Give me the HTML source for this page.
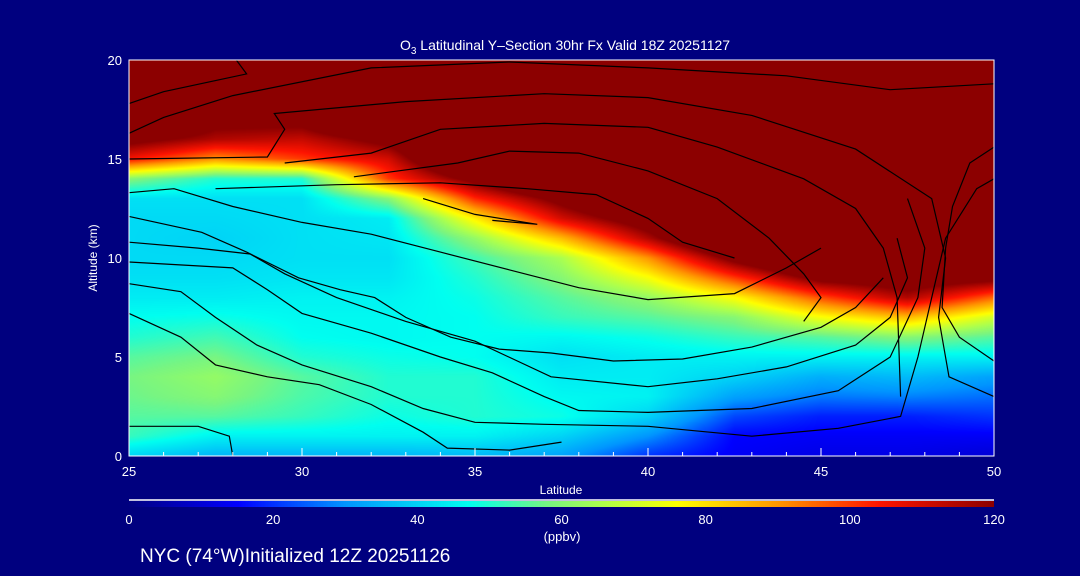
<!DOCTYPE html>
<html><head><meta charset="utf-8">
<style>
html,body{margin:0;padding:0;background:#00007f;}
#wrap{position:relative;width:1080px;height:576px;background:#00007f;overflow:hidden;font-family:"Liberation Sans",sans-serif;color:#fff;}
svg text{font-family:"Liberation Sans",sans-serif;fill:#fff;}
canvas{position:absolute;}
</style></head>
<body>
<div id="wrap">
<canvas id="heat" width="865" height="396" style="left:129px;top:60px"></canvas>
<canvas id="cbar" width="865" height="6" style="left:129px;top:501px"></canvas>
<svg id="ax" width="1080" height="576" style="position:absolute;left:0;top:0"></svg>
</div>
<script>
const lats = [25,27.5,30,32.5,35,37.5,40,42.5,45,47.5,50];
const alts = [0,1,2,3,4,5,6,7,8,9,10,11,12,13,14,15,16,17,18,19,20];
const o3_25  = [40,52,55,57,58,55,50,47,44,42,41,41,41,42,60,105,125,150,150,150,150];
const o3_275 = [35,45,55,60,62,58,53,48,44,42,41,40,41,42,50,90,115,125,150,150,150];
const o3_30  = [35,45,52,54,55,50,47,46,45,43,42,42,42,42,50,100,112,125,150,150,150];
const o3_325 = [35,45,48,50,50,48,46,46,45,43,42,43,44,60,100,110,125,150,150,150,150];
const o3_35  = [36,45,50,50,50,47,47,47,48,50,53,62,78,102,125,150,150,150,150,150,150];
const o3_375 = [32,40,48,46,44,42,46,52,55,60,65,85,110,125,150,150,150,150,150,150,150];
const o3_40  = [20,30,40,45,44,44,48,55,62,75,90,115,130,150,150,150,150,150,150,150,150];
const o3_425 = [14,15,22,32,40,45,52,60,76,100,125,150,150,150,150,150,150,150,150,150,150];
const o3_45  = [12,14,18,27,34,45,55,75,98,125,150,150,150,150,150,150,150,150,150,150,150];
const o3_475 = [12,14,18,28,36,45,60,85,115,130,150,150,150,150,150,150,150,150,150,150,150];
const o3_50  = [10,14,20,26,32,45,55,70,95,125,150,150,150,150,150,150,150,150,150,150,150];
const columns = [o3_25,o3_275,o3_30,o3_325,o3_35,o3_375,o3_40,o3_425,o3_45,o3_475,o3_50];
const xTicks = [25,30,35,40,45,50];
const yTicks = [0,5,10,15,20];
const cbTicks = [0,20,40,60,80,100,120];
// overlay contour lines: [latitude, altitude km]
const contourS1 = [[25,17.8],[26,18.4],[27.6,19.0],[28.4,19.3],[28.1,20]];
const contourS2 = [[25,16.3],[26,17.1],[28,18.2],[32,19.6],[36,19.9],[40,19.6],[44,19.2],[47,18.5],[50,18.8]];
const contourS3 = [[25,15.0],[29,15.1],[29.5,16.5],[29.2,17.3],[33,17.9],[37,18.3],[40,18.1],[43,17.2],[46,15.5],[48.2,13],[48.6,10],[48.4,7],[48.7,4],[50,3]];
const contourS4 = [[29.5,14.8],[32,15.3],[34,16.5],[37,16.8],[40,16.6],[42,15.6],[44.5,14],[46,12.5],[46.8,10.5],[47.2,8],[47.3,3]];
const contourS5 = [[31.5,14.1],[34.5,14.8],[36,15.4],[38,15.3],[40,14.4],[42,13.0],[43.5,11],[44.5,9.2],[45,8],[44.5,6.8]];
const contourS6 = [[27.5,13.5],[31,13.7],[34,13.8],[36.5,13.5],[38.5,13.2],[40,12.0],[41,10.8],[42.5,10.0]];
const contourS7 = [[33.5,13],[35,12.2],[36.8,11.7],[35.5,11.9]];
const contourU1 = [[50,15.6],[49.3,14.8],[48.8,12.6],[48.6,10.5],[48.5,7.5],[49,6],[50,4.8]];
const contourC1 = [[25,12.1],[27.1,11.3],[28.4,10.3],[29.9,9.0],[31.1,8.4],[32.1,8.0],[33,7.0],[34.3,6.0],[35.7,5.4],[37.2,5.2],[39,4.8],[41,4.9],[43,5.5],[45,6.5],[46,7.5],[46.8,9]];
const contourC2 = [[25,10.8],[27,10.5],[28.5,10.2],[29.5,9.2],[31,8.0],[33,6.8],[35,5.8],[37.2,4.0],[40,3.5],[42,3.9],[44,4.5],[46,5.6],[47,7],[47.5,9],[47.2,11]];
const contourC3 = [[25,9.8],[28,9.5],[29,8.4],[30,7.2],[32,6.2],[34,5.0],[35.5,4.2],[37,3.0],[38,2.3],[40,2.2],[43,2.4],[45.5,3.3],[47,5],[47.8,8],[48,10.5],[47.5,13]];
const contourC4 = [[25,8.7],[26.5,8.3],[27.5,7.0],[28.7,5.6],[30,4.6],[32,3.5],[33.5,2.4],[35,1.7],[37,1.6],[40,1.5],[43,1.0],[45.5,1.4],[47.3,2.0],[47.8,5],[48.2,8],[48.6,11],[49.5,13.5],[50,14]];
const contourC5 = [[25,7.2],[26.5,6.0],[27.5,4.6],[29,4.0],[30.5,3.6],[32,2.6],[33.5,1.2],[34.2,0.4],[36,0.3],[37.5,0.7]];
const contourC6 = [[25,1.5],[27,1.5],[27.9,1.0],[28,0]];
const contourC7 = [[25,13.3],[26.3,13.5],[28,12.6],[30,11.8],[32,11.2],[34,10.3],[36,9.4],[38,8.5],[40,7.9],[42.5,8.2],[44,9.5],[45,10.5]];
const contours = [contourS1,contourS2,contourS3,contourS4,contourS5,contourS6,contourS7,contourU1,contourC1,contourC2,contourC3,contourC4,contourC5,contourC6,contourC7];

const PL=129,PR=994,PT=60,PB=456;
const xS = v => PL + (v-25)/25*(PR-PL);
const yS = v => PB - v/20*(PB-PT);
const stops=[[0,0,0,130],[15,0,0,255],[30,0,150,255],[47,0,255,240],[58,120,245,130],[65,170,255,80],[76,255,255,0],[90,255,150,0],[104,255,20,0],[120,140,0,0]];
function cmap(v){
  if(v<=stops[0][0]) return stops[0].slice(1);
  if(v>=120) return stops[stops.length-1].slice(1);
  for(let i=1;i<stops.length;i++){ if(v<=stops[i][0]){const a=stops[i-1],b=stops[i],t=(v-a[0])/(b[0]-a[0]);return [a[1]+t*(b[1]-a[1]),a[2]+t*(b[2]-a[2]),a[3]+t*(b[3]-a[3])];}}
}
function field(lat,alt){
  let fi=(lat-25)/2.5; let i=Math.min(Math.floor(fi),lats.length-2); let tx=fi-i;
  let fj=alt; let j=Math.min(Math.floor(fj),alts.length-2); let ty=fj-j;
  const a=columns[i][j],b=columns[i+1][j],c=columns[i][j+1],d=columns[i+1][j+1];
  return (a*(1-tx)+b*tx)*(1-ty)+(c*(1-tx)+d*tx)*ty;
}
(function(){
  const cv=document.getElementById('heat'),ctx=cv.getContext('2d');
  const W=cv.width,H=cv.height,img=ctx.createImageData(W,H);
  for(let y=0;y<H;y++){const alt=(H-0.5-y)/H*20;
    for(let x=0;x<W;x++){const lat=25+(x+0.5)/W*25;const c=cmap(field(lat,alt));const k=(y*W+x)*4;
      img.data[k]=c[0];img.data[k+1]=c[1];img.data[k+2]=c[2];img.data[k+3]=255;}}
  ctx.putImageData(img,0,0);
  const cb=document.getElementById('cbar'),c2=cb.getContext('2d');
  for(let x=0;x<cb.width;x++){const c=cmap(x/cb.width*120);c2.fillStyle=`rgb(${c[0]|0},${c[1]|0},${c[2]|0})`;c2.fillRect(x,0,1,6);}
})();
const svg=document.getElementById('ax'),NS='http://www.w3.org/2000/svg';
function mk(t,attrs,txt){const e=document.createElementNS(NS,t);for(const k in attrs)e.setAttribute(k,attrs[k]);if(txt!==undefined)e.textContent=txt;svg.appendChild(e);return e;}
let e;
contours.forEach(c=>{
  e=mk('polyline',{points:c.map(p=>xS(p[0]).toFixed(1)+','+yS(p[1]).toFixed(1)).join(' '),fill:'none',stroke:'#000','stroke-width':1.2});
  
  
});
e=mk('rect',{x:PL,y:PT,width:PR-PL,height:PB-PT,fill:'none',stroke:'#fff','stroke-width':1});


for(let v=25;v<=50;v++){const big=v%5===0;
  e=mk('line',{x1:xS(v),x2:xS(v),y1:PB,y2:PB-(big?8:4),stroke:'#fff'});
  
  }
xTicks.forEach(v=>{e=mk('text',{x:xS(v),y:476,'font-size':13,'text-anchor':'middle'},String(v));
  
  });
yTicks.forEach(v=>{e=mk('text',{x:122,y:yS(v)+5,'font-size':13,'text-anchor':'end'},String(v));
  
  });
cbTicks.forEach(v=>{e=mk('text',{x:PL+v/120*(PR-PL),y:524,'font-size':13,'text-anchor':'middle'},String(v));
  
  });
e=mk('line',{x1:PL,x2:PR,y1:500,y2:500,stroke:'#fff','stroke-width':1.5});


e=mk('text',{x:561,y:494,'font-size':12,'text-anchor':'middle'},'Latitude');


e=mk('text',{x:0,y:0,'font-size':12,'text-anchor':'middle',transform:'translate(97,258) rotate(-90)'},'Altitude (km)');


e=mk('text',{x:562,y:541,'font-size':13,'text-anchor':'middle'},'(ppbv)');


e=mk('text',{x:140,y:562,'font-size':19,fill:'#dde'},'NYC (74°W)Initialized 12Z 20251126');


e=mk('text',{x:565,y:50,'font-size':14,'text-anchor':'middle'});


e.innerHTML='O<tspan font-size="10" dy="4">3</tspan><tspan dy="-4"> Latitudinal Y\u2013Section 30hr  Fx Valid 18Z 20251127</tspan>';
</script>
</body></html>
